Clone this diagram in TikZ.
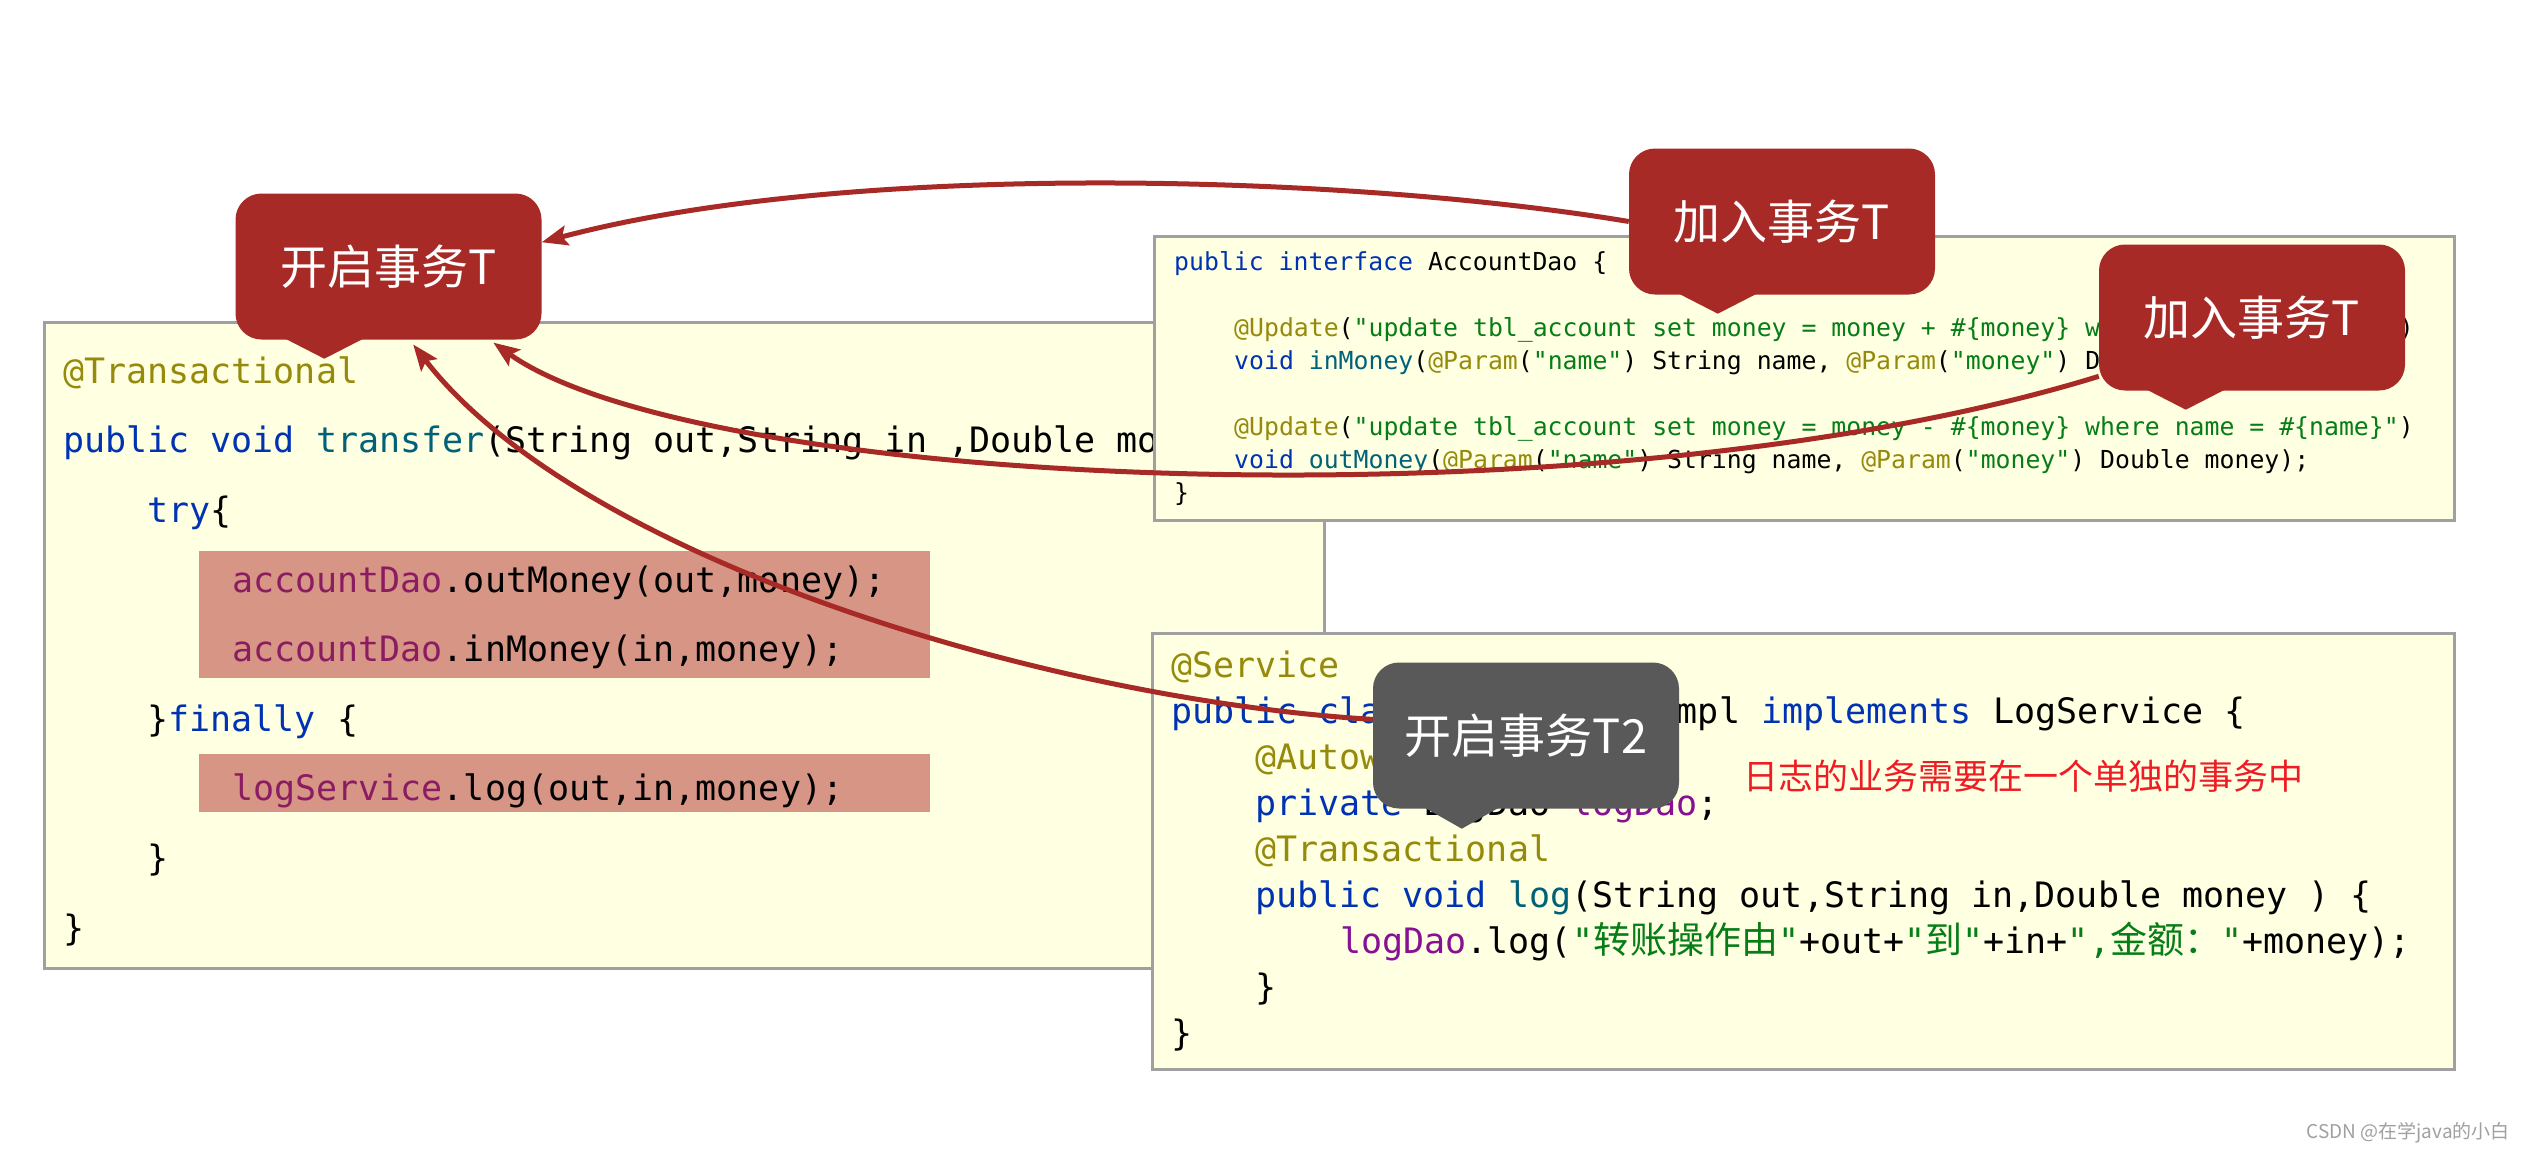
\documentclass[tikz,border=0pt]{standalone}
\usepackage{fontspec}
\setmonofont{DejaVu Sans Mono}
\newfontfamily\cjk{Noto Sans CJK SC}
\usetikzlibrary{arrows.meta,calc}
\definecolor{kw}{HTML}{0033B3}
\definecolor{ann}{HTML}{968A0C}
\definecolor{fnc}{HTML}{00627A}
\definecolor{fld}{HTML}{871094}
\definecolor{hfld}{HTML}{8B1C62}
\definecolor{strg}{HTML}{067D17}
\definecolor{boxfill}{HTML}{FFFFE1}
\definecolor{boxline}{HTML}{A0A0A0}
\definecolor{hl}{HTML}{D69585}
\definecolor{cred}{HTML}{A82A26}
\definecolor{cgray}{HTML}{595959}
\definecolor{note}{HTML}{EE1C25}
\definecolor{wm}{HTML}{A0A0A0}
\newcommand\Ckw[1]{\textcolor{kw}{#1}}
\newcommand\Cann[1]{\textcolor{ann}{#1}}
\newcommand\Cfn[1]{\textcolor{fnc}{#1}}
\newcommand\Cfld[1]{\textcolor{fld}{#1}}
\newcommand\Chfld[1]{\textcolor{hfld}{#1}}
\newcommand\Cstr[1]{\textcolor{strg}{#1}}
\newcommand\zh[1]{{\cjk\fontsize{37}{40}\selectfont #1}}
\newcommand\fbig{\ttfamily\frenchspacing\fontsize{35}{40}\selectfont}
\newcommand\fsmall{\ttfamily\frenchspacing\fontsize{24.8}{28}\selectfont}
\begin{document}
\begin{tikzpicture}[x=1pt,y=-1pt,
  codebox/.style={draw=boxline, line width=3pt, fill=boxfill, anchor=north west, inner sep=0pt},
  cline/.style={anchor=base west, inner sep=0pt, text=black},
  callbox/.style={rounded corners=26pt, minimum width=306pt, minimum height=146pt, inner sep=0pt, text=white, font=\cjk\fontsize{47}{52}\selectfont},
  conn/.style={draw=cred, line width=5pt, -{Stealth[length=26pt,width=20pt,inset=5pt]}}]
\useasboundingbox (0,0) rectangle (2524,1152);
\fill[white] (0,0) rectangle (2524,1152);

% left box
\node[codebox, minimum width=1280pt, minimum height=646pt] (leftbox) at (43,321) {};
\fill[hl] (199,551) rectangle (930,678);
\fill[hl] (199,754) rectangle (930,812);
\node[cline,font=\fbig] (l1) at (63,383) {\Cann{@Transactional}};
\node[cline,font=\fbig] (l2) at (63,452.6) {\Ckw{public void} \Cfn{transfer}(String out,String in ,Double money)\{};
\node[cline,font=\fbig] (l3) at (147.3,522) {\Ckw{try}\{};
\node[cline,font=\fbig] (l4) at (232,592) {\Chfld{accountDao}.outMoney(out,money);};
\node[cline,font=\fbig] (l5) at (232,661) {\Chfld{accountDao}.inMoney(in,money);};
\node[cline,font=\fbig] (l6) at (147.3,731) {\}\Ckw{finally} \{};
\node[cline,font=\fbig] (l7) at (232,800) {\Chfld{logService}.log(out,in,money);};
\node[cline,font=\fbig] (l8) at (147.3,870) {\}};
\node[cline,font=\fbig] (l9) at (63,940) {\}};

% AccountDao box
\node[codebox, minimum width=1300pt, minimum height=284pt] (daobox) at (1153,235) {};
\node[cline,font=\fsmall] (a1) at (1174,270) {\Ckw{public interface} AccountDao \{};
\node[cline,font=\fsmall] (a2) at (1234,336) {\Cann{@Update}(\Cstr{"update tbl\_account set money = money + \#\{money\} where name = \#\{name\}"})};
\node[cline,font=\fsmall] (a3) at (1234,369) {\Ckw{void} \Cfn{inMoney}(\Cann{@Param}(\Cstr{"name"}) String name, \Cann{@Param}(\Cstr{"money"}) Double money);};
\node[cline,font=\fsmall] (a4) at (1234,435) {\Cann{@Update}(\Cstr{"update tbl\_account set money = money - \#\{money\} where name = \#\{name\}"})};
\node[cline,font=\fsmall] (a5) at (1234,468) {\Ckw{void} \Cfn{outMoney}(\Cann{@Param}(\Cstr{"name"}) String name, \Cann{@Param}(\Cstr{"money"}) Double money);};
\node[cline,font=\fsmall] (a6) at (1174,501) {\}};

% LogService box
\node[codebox, minimum width=1302pt, minimum height=436pt] (logbox) at (1151,632) {};
\node[cline,font=\fbig] (b1) at (1171,677) {\Cann{@Service}};
\node[cline,font=\fbig] (b2) at (1171,723) {\Ckw{public class} LogServiceImpl \Ckw{implements} LogService \{};
\node[cline,font=\fbig] (b3) at (1255,769) {\Cann{@Autowired}};
\node[cline,font=\fbig] (b4) at (1255,815) {\Ckw{private} LogDao \Cfld{logDao};};
\node[cline,font=\fbig] (b5) at (1255,861) {\Cann{@Transactional}};
\node[cline,font=\fbig] (b6) at (1255,907) {\Ckw{public void} \Cfn{log}(String out,String in,Double money ) \{};
\node[cline,font=\fbig] (b7) at (1340,953) {\Cfld{logDao}.log(\Cstr{"\zh{转账操作由}"}+out+\Cstr{"\zh{到}"}+in+\Cstr{",\zh{金额：}"}+money);};
\node[cline,font=\fbig] (b8) at (1255,999) {\}};
\node[cline,font=\fbig] (b9) at (1171,1045) {\}};

\node[cline, text=note, font=\cjk\fontsize{35}{40}\selectfont] (note) at (1743,789) {日志的业务需要在一个单独的事务中};

% callouts
\node[callbox, fill=cred] (kq) at (388.5,266.5) {开启事务T};
\node[callbox, fill=cred] (j1) at (1782,221.5) {加入事务T};
\node[callbox, fill=cred] (j2) at (2252,317.5) {加入事务T};
\node[callbox, fill=cgray] (t2) at (1526,735.5) {开启事务T2};
\fill[cred] ($(kq.south west)+(50,-1)$) -- ($(kq.south west)+(89,19)$) -- ($(kq.south west)+(128,-1)$) -- cycle;
\fill[cred] ($(j1.south west)+(50,-1)$) -- ($(j1.south west)+(89,19)$) -- ($(j1.south west)+(128,-1)$) -- cycle;
\fill[cred] ($(j2.south west)+(48,-1)$) -- ($(j2.south west)+(87,19)$) -- ($(j2.south west)+(126,-1)$) -- cycle;
\fill[cgray] ($(t2.south west)+(52,-1)$) -- ($(t2.south west)+(89,20)$) -- ($(t2.south west)+(126,-1)$) -- cycle;

% connectors
\draw[conn] (j1.west) .. controls (1350,175) and (850,160) .. (kq.9);
\draw[conn, shorten >=5pt] (j2.201) .. controls (1600,530) and (700,490) .. (kq.324);
\draw[conn, shorten >=6pt] (t2.174) .. controls (1050,700) and (580,560) .. (kq.286);

\node[anchor=east, inner sep=0pt, text=wm, font=\cjk\fontsize{19}{20}\selectfont] (wmark) at (2510,1133) {CSDN @在学java的小白};
\end{tikzpicture}
\end{document}
